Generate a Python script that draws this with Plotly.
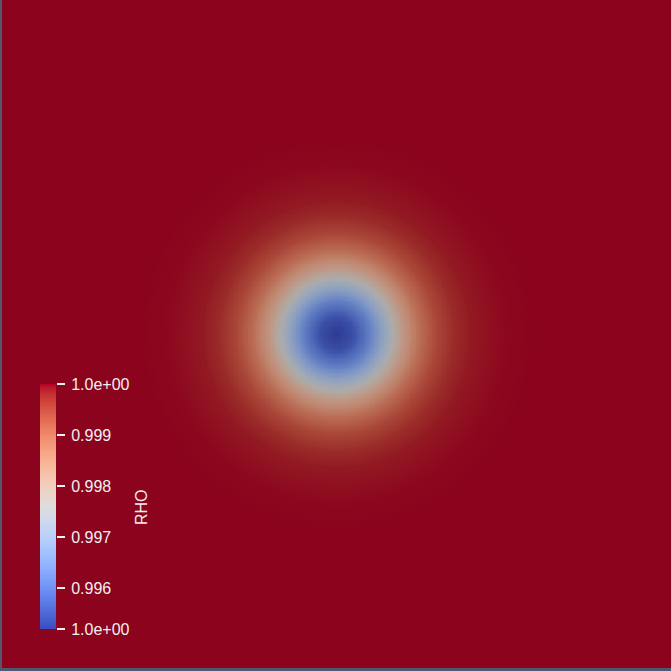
import numpy as np
import plotly.graph_objects as go

# ---- data ----
# radial density profile of the vortex (radius in domain units, centre at (5,5))
radius = [0.0, 0.25, 0.5, 0.75, 1.0, 1.25, 1.5, 1.75, 2.0, 2.5, 3.0, 8.0]
rho = [0.99520, 0.99549, 0.99626, 0.99726, 0.99823, 0.99897, 0.99945,
       0.99974, 0.99988, 0.99997, 1.0, 1.0]
center = [5.0, 5.0]
domain_x = [0.0, 10.0]
domain_y = [0.0, 10.0]

rho_min = 0.9952
rho_max = 1.0
tick_vals = [0.9952, 0.996, 0.997, 0.998, 0.999, 1.0]
tick_text = ["1.0e+00", "0.996", "0.997", "0.998", "0.999", "1.0e+00"]
bar_title = "RHO"

# ---- Cool to Warm colour map ----
cw = [(59, 76, 192), (68, 90, 204), (77, 104, 215), (87, 117, 225), (98, 130, 234),
      (108, 142, 241), (119, 154, 247), (130, 165, 251), (141, 176, 254), (152, 185, 255),
      (163, 194, 255), (174, 201, 253), (184, 208, 249), (194, 213, 244), (204, 217, 238),
      (213, 219, 230), (221, 221, 221), (229, 216, 209), (236, 211, 197), (241, 204, 185),
      (245, 196, 173), (247, 187, 160), (247, 177, 148), (247, 166, 135), (244, 154, 123),
      (241, 141, 111), (236, 127, 99), (229, 112, 88), (222, 96, 77), (213, 80, 66),
      (203, 62, 56), (192, 40, 47), (180, 4, 38)]


def scale(f):
    n = len(cw) - 1
    return [[i / n, "rgb(%d,%d,%d)" % tuple(round(c * f) for c in col)] for i, col in enumerate(cw)]


lit_scale = scale(0.772)
bar_scale = scale(1.0)

# ---- field ----
n = 400
xs = np.linspace(domain_x[0], domain_x[1], n)
ys = np.linspace(domain_y[0], domain_y[1], n)
X, Y = np.meshgrid(xs, ys)
R = np.sqrt((X - center[0]) ** 2 + (Y - center[1]) ** 2)
Z = np.interp(R, radius, rho)

W = H = 671
fig = go.Figure()
fig.add_trace(go.Heatmap(x=xs, y=ys, z=Z, colorscale=lit_scale, zmin=rho_min, zmax=rho_max,
                         showscale=False, hoverinfo="skip", xaxis="x", yaxis="y"))

cb_vals = np.linspace(rho_min, rho_max, 200)
fig.add_trace(go.Heatmap(x=[0], y=cb_vals, z=[[v] for v in cb_vals], colorscale=bar_scale,
                         zmin=rho_min, zmax=rho_max, showscale=False, hoverinfo="skip",
                         xaxis="x2", yaxis="y2"))

font = dict(family="Liberation Sans, Arial, sans-serif", size=16, color="rgb(240,240,240)")

fig.update_layout(
    width=W, height=H,
    margin=dict(l=0, r=0, t=0, b=0, pad=0),
    paper_bgcolor="rgb(82,87,110)",
    plot_bgcolor="rgb(139,3,29)",
    showlegend=False,
    xaxis=dict(domain=[2 / W, 1], range=domain_x, visible=False, fixedrange=True, automargin=False),
    yaxis=dict(domain=[3 / H, 1], range=domain_y, visible=False, fixedrange=True, automargin=False),
    xaxis2=dict(domain=[40 / W, 56 / W], range=[-0.5, 0.5], visible=False, anchor="y2",
                automargin=False),
    yaxis2=dict(domain=[1 - 629 / H, 1 - 384 / H], range=[rho_min, rho_max], anchor="free",
                position=56 / W, side="right", tickvals=tick_vals, ticktext=tick_text,
                ticks="outside", ticklen=8, tickwidth=1.5, tickcolor="rgb(240,240,240)",
                ticklabelstandoff=3,
                tickfont=font, showgrid=False, zeroline=False, showline=False, automargin=False),
    annotations=[dict(text=bar_title, x=141 / W, y=1 - 507 / H, xref="paper", yref="paper",
                      showarrow=False, textangle=-90, font=font, xanchor="center", yanchor="middle")],
)

fig.write_html("out.html", config={"displayModeBar": False},
               post_script="document.body.style.margin='0';document.body.style.overflow='hidden';")
